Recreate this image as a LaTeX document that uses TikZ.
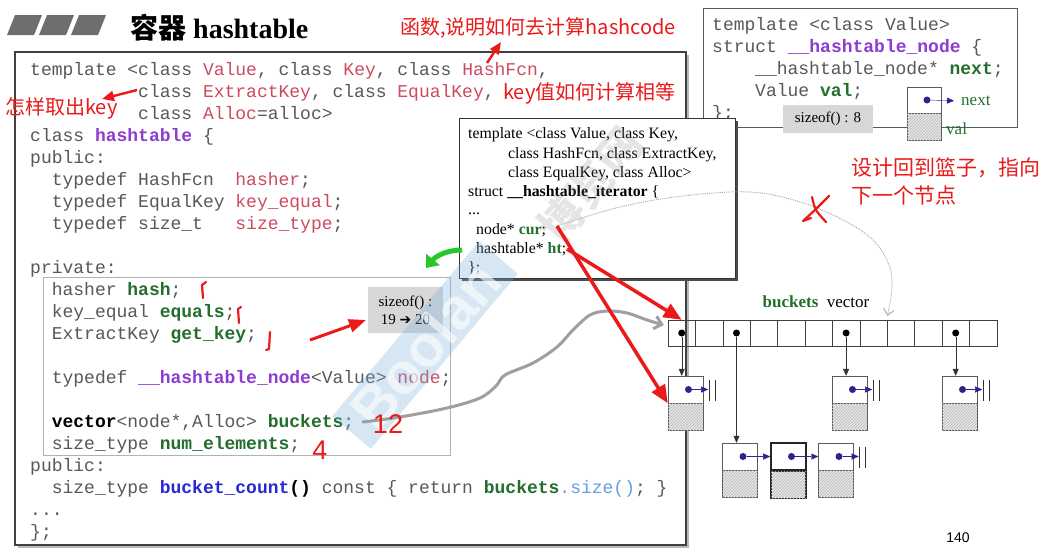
\documentclass[tikz,border=0pt]{standalone}
\usepackage{fontspec}
\setmainfont{Liberation Serif}
\newfontfamily\codefont{Liberation Mono}
\newfontfamily\cjkfont{Noto Sans CJK SC}
\newfontfamily\symfont{DejaVu Sans}
\newfontfamily\pagfont{Liberation Sans}
\usetikzlibrary{arrows.meta,patterns,positioning,calc}

\newcommand\rosa[1]{\textcolor{tpink}{#1}}
\newcommand\verdeb[1]{\textcolor{tverde}{\bfseries #1}}
\newcommand\morado[1]{\textcolor{tpurp}{\bfseries #1}}

\begin{document}
\begin{tikzpicture}[x=1pt, y=-1pt,
  code/.style={font=\codefont\fontsize{18}{22}\selectfont, text=codeg, anchor=base west, inner sep=0pt},
  itline/.style={font=\fontsize{15.8}{19}\selectfont, text=black, anchor=base west, inner sep=0pt},
  nota/.style={font=\cjkfont\fontsize{20}{28}\selectfont, text=rojon, inner sep=0pt, anchor=west},
  nodeup/.style={draw=gray!70!black, fill=white, minimum width=35pt, minimum height=27pt, inner sep=0pt},
  nodedn/.style={draw=gray!70!black, fill=gray!20, postaction={pattern=north east lines, pattern color=gray!55},
    minimum width=35pt, minimum height=27pt, inner sep=0pt},
  vcell/.style={draw=black!75, minimum width=27.4pt, minimum height=26pt, inner sep=0pt},
  pdot/.style={circle, fill=black, inner sep=0pt, minimum size=7pt},
  bdot/.style={circle, fill=azulp, inner sep=0pt, minimum size=7pt},
  ptr/.style={black!80, -{Triangle[length=7pt,width=6pt]}},
  bptr/.style={azulp, -{Triangle[length=7pt,width=6pt]}},
  flecharoja/.style={rojon, line width=3.5pt, -{Triangle[length=18pt,width=15pt]}},
  flechita/.style={rojon, line width=2.4pt, -{Triangle[length=12pt,width=10pt]}},
  trazo/.style={rojon, line width=2.2pt, line cap=round, line join=round}
]

\definecolor{codeg}{RGB}{88,88,88}
\definecolor{tpink}{RGB}{205,75,95}
\definecolor{tpurp}{RGB}{140,60,210}
\definecolor{tverde}{RGB}{35,110,45}
\definecolor{tazul}{RGB}{40,40,210}
\definecolor{tceleste}{RGB}{100,160,225}
\definecolor{rojon}{RGB}{235,25,25}
\definecolor{azulp}{RGB}{45,35,140}
\definecolor{grisbarra}{RGB}{110,110,110}
\definecolor{grisbox}{RGB}{215,215,215}
\definecolor{azulmarca}{RGB}{120,175,215}
\definecolor{verdefl}{RGB}{40,200,40}

\def\CW{27.4}

% Fondo y bordes de la pagina
\fill[white] (0,0) rectangle (1049,557);
\useasboundingbox (0,0) rectangle (1049,557);

% === TITULO ===
\foreach \i in {0,1,2}{ \fill[grisbarra] (7+32*\i,35) -- (15+32*\i,15) -- (42+32*\i,15) -- (34+32*\i,35) -- cycle; }
\node[anchor=base west, inner sep=0pt, font=\fontsize{28}{30}\selectfont] (titulo) at (130,38)
  {{\cjkfont\bfseries 容器} \textbf{hashtable}};

% === CAJA PRINCIPAL ===
\fill[gray!55] (18,55) rectangle (689,548);
\draw[black!75, line width=1.2pt, fill=white] (15,52) rectangle (686,545);
\draw[gray!60] (43,277) rectangle (450,455);

\node[code] (l1)  at (30,75)    {template <class \rosa{Value}, class \rosa{Key}, class \rosa{HashFcn},};
\node[code] (l2)  at (138,97)   {class \rosa{ExtractKey}, class \rosa{EqualKey},};
\node[code] (l3)  at (138,119)  {class \rosa{Alloc}=alloc>};
\node[code] (l4)  at (30,141)   {class \morado{hashtable} \{};
\node[code] (l5)  at (30,163)   {public:};
\node[code] (l6)  at (51.6,185) {typedef HashFcn~~\rosa{hasher};};
\node[code] (l7)  at (51.6,207) {typedef EqualKey \rosa{key\_equal};};
\node[code] (l8)  at (51.6,229) {typedef size\_t~~~\rosa{size\_type};};
\node[code] (l9)  at (30,273)   {private:};
\node[code] (l10) at (51.6,295) {hasher \verdeb{hash};};
\node[code] (l11) at (51.6,317) {key\_equal \verdeb{equals};};
\node[code] (l12) at (51.6,339) {ExtractKey \verdeb{get\_key};};
\node[code] (l13) at (51.6,383) {typedef \morado{\_\_hashtable\_node}<Value> \rosa{node};};
\node[code] (l14) at (51.6,427) {\textcolor{black}{\bfseries vector}<node*,Alloc> \verdeb{buckets};};
\node[code] (l15) at (51.6,449) {size\_type \verdeb{num\_elements};};
\node[code] (l16) at (30,471)   {public:};
\node[code] (l17) at (51.6,493) {size\_type \textcolor{tazul}{\bfseries bucket\_count}\textcolor{black}{\bfseries ()} const \{ return \verdeb{buckets}\textcolor{tceleste}{.size()}; \}};
\node[code] (l18) at (30,515)   {...};
\node[code] (l19) at (30,537)   {\};};

\node[fill=grisbox, minimum width=75pt, minimum height=46pt, inner sep=0pt, align=center,
  font=\fontsize{15}{18}\selectfont] (sz) at (405.5,310) {sizeof() :\\19 {\symfont\fontsize{14}{18}\selectfont ➔} 20};

% === __hashtable_node ===
\draw[gray!70!black, line width=1pt] (703,8) rectangle (1017,127);
\node[code] (h1) at (712,30)  {template <class Value>};
\node[code] (h2) at (712,52)  {struct \morado{\_\_hashtable\_node} \{};
\node[code] (h3) at (755,74)  {\_\_hashtable\_node* \verdeb{next};};
\node[code] (h4) at (755,96)  {Value \verdeb{val};};
\node[code] (h5) at (712,118) {\};};
\node[fill=grisbox, minimum width=90pt, minimum height=28pt, inner sep=0pt,
  font=\fontsize{15}{18}\selectfont] (sz8) at (828,119) {sizeof() : 8};
\node[nodeup, minimum width=34pt, minimum height=26pt] (ej) at (924,100) {};
\node[nodedn, minimum width=34pt, below=0pt of ej] (ejv) {};
\node[bdot] (ejd) at ($(ej.center)+(3,0)$) {};
\node[font=\fontsize{17}{18}\selectfont, text=tverde, anchor=west, inner sep=0pt] (txtnext) at (961,101) {next};
\node[font=\fontsize{17}{18}\selectfont, text=tverde, anchor=west, inner sep=0pt] (txtval) at (946,129) {val};
\draw[bptr, shorten >=7pt] (ejd) -- (txtnext.west);

% === __hashtable_iterator ===
\fill[gray!60!black] (462,121) rectangle (738,281);
\draw[black!80, fill=white] (459,118) rectangle (735,278);
\node[itline] (it1) at (468,138) {template <class Value, class Key,};
\node[itline] (it2) at (508,158) {class HashFcn, class ExtractKey,};
\node[itline] (it3) at (508,177) {class EqualKey, class Alloc>};
\node[itline] (it4) at (468,196) {struct \textbf{\_\_hashtable\_iterator} \{};
\node[itline] (it5) at (468,214) {...};
\node[itline] (it6) at (476,234) {node* \textcolor{tverde}{\textbf{cur}};};
\node[itline] (it7) at (476,253) {hashtable* \textcolor{tverde}{\textbf{ht}};};
\node[itline] (it8) at (468,272) {\};};

% === MARCA DE AGUA ===
\node[rotate=50, fill=azulmarca, fill opacity=0.3, text=white, text opacity=0.6,
  font=\pagfont\bfseries\fontsize{58}{60}\selectfont, inner xsep=16pt, inner ysep=4pt] (marca) at (425,345) {Boolan};
\node[rotate=50, text=gray, text opacity=0.2, font=\cjkfont\bfseries\fontsize{44}{44}\selectfont] (marca2) at (590,185) {博览网};

% === BUCKETS ===
\node[font=\fontsize{17}{20}\selectfont, inner sep=0pt] (etiq) at (816,302) {\textcolor{tverde}{\textbf{buckets}}~ vector};
\foreach \i in {1,...,12}{ \node[vcell] (v\i) at ({668+\CW*(\i-0.5)},333) {}; }
\foreach \i in {1,3,7,11}{ \node[pdot] (d\i) at (v\i) {}; }

% nodos de la primera fila
\node[nodeup] (na) at (685.5,389.5) {};
\node[nodedn, below=0pt of na] (nav) {};
\node[nodeup] (nb) at (849.5,389.5) {};
\node[nodedn, below=0pt of nb] (nbv) {};
\node[nodeup] (nc) at (959.5,389.5) {};
\node[nodedn, below=0pt of nc] (ncv) {};

% lista de la celda 3
\node[nodeup] (c1) at (740,456.5) {};
\node[nodedn, below=0pt of c1] (c1v) {};
\node[nodeup, draw=black!85, line width=1.6pt] (c2) at (788.5,456.5) {};
\node[nodedn, draw=black!85, line width=1.6pt, below=0pt of c2] (c2v) {};
\node[nodeup] (c3) at (836,456.5) {};
\node[nodedn, below=0pt of c3] (c3v) {};

\draw[ptr] (d1)  -- (na.north -| d1);
\draw[ptr] (d7)  -- (nb.north -| d7);
\draw[ptr] (d11) -- (nc.north -| d11);
\draw[ptr] (d3)  -- (c1.north -| d3);

\foreach \b in {na,nb,nc,c1,c2,c3}{ \node[bdot] (\b d) at ($(\b.center)+(3,0)$) {}; }
\coordinate (nulA) at ($(na.east)+(5,0)$);
\coordinate (nulB) at ($(nb.east)+(5,0)$);
\coordinate (nulC) at ($(nc.east)+(5,0)$);
\coordinate (nulD) at ($(c3.east)+(5,0)$);
\draw[bptr] (nad) -- (nulA);
\draw[bptr] (nbd) -- (nulB);
\draw[bptr] (ncd) -- (nulC);
\draw[bptr] (c1d) -- (c2.west);
\draw[bptr] (c2d) -- (c3.west);
\draw[bptr] (c3d) -- (nulD);
\foreach \n in {nulA,nulB,nulC,nulD}{
  \draw[black!80] ($(\n)+(0.8,-10)$) -- ($(\n)+(0.8,11)$);
  \draw[black!80] ($(\n)+(6.5,-10)$) -- ($(\n)+(6.5,11)$);
}

% === FLECHAS ===
\coordinate (curfin) at (557,226);
\coordinate (htfin) at (567,249);
\coordinate (bkfin) at (363,422);
\coordinate (vd1) at (462,250);
\coordinate (vd2) at (426,268);

\draw[verdefl, line width=5pt, -{Triangle[length=11pt,width=17pt]}] (vd1) .. controls (447,250) and (436,256) .. (vd2);
\draw[gray!75, line width=3pt, line cap=round, -{Straight Barb[length=7pt,width=13pt]}]
  plot[smooth, tension=0.55] coordinates {(bkfin) (400,417) (447,408) (480,398) (496,386) (505,375)
  (533,363) (557,347) (573,330) (590,315) (607,311) (627,313) (647,320) ($(v1.west)+(-4,-8)$)};
\draw[gray!70, densely dotted, line width=0.9pt, -{Straight Barb[length=6pt,width=11pt]}]
  plot[smooth, tension=0.6] coordinates {(curfin) (620,207) (683,196) (750,192) (800,202) (843,220)
  (873,240) (889,265) (892,288) ($(v8.north east)+(0,-4)$)};

\draw[flecharoja] (curfin) -- (nav.north west);
\draw[flecharoja] (htfin) -- (v1.north);

% === NOTAS ROJAS ===
\node[nota] (n1) at (400,28) {函数,说明如何去计算hashcode};
\node[nota] (n2) at (5,108) {怎样取出key};
\node[nota] (n3) at (503,93) {key值如何计算相等};
\node[nota, font=\cjkfont\fontsize{21}{28}\selectfont, align=left, anchor=north west] (n4) at (851,158)
  {设计回到篮子，指向\\下一个节点};

\coordinate (fa1) at (487,63);
\coordinate (fb1) at (501,42);
\coordinate (fa2) at (137,90);
\coordinate (fb2) at (102,99);
\coordinate (fa3) at (310,340);
\coordinate (fb3) at (366,320);
\draw[flechita] (fa1) -- (fb1);
\draw[flechita] (fa2) -- (fb2);
\draw[flechita, line width=3pt, -{Triangle[length=17pt,width=13pt]}] (fa3) -- (fb3);

% marcas a mano
\draw[trazo] (206,282) -- (202,285) -- (203,298);
\draw[trazo] (241,307) -- (238,309) -- (239,323);
\draw[trazo] (270,332) -- (269,349) -- (266,350);
\draw[trazo] (812,197) .. controls (815,210) .. (826,222);
\draw[trazo] (829,196) .. controls (815,210) .. (803,221) -- (811,218);
\node[text=rojon, font=\pagfont\fontsize{27}{28}\selectfont, inner sep=0pt] (doce) at (388,424) {12};
\node[text=rojon, font=\pagfont\fontsize{27}{28}\selectfont, inner sep=0pt] (cuatro) at (320,450) {4};

% numero de pagina
\node[font=\pagfont\fontsize{14}{14}\selectfont, inner sep=0pt] (pag) at (958,538) {140};

\end{tikzpicture}
\end{document}
